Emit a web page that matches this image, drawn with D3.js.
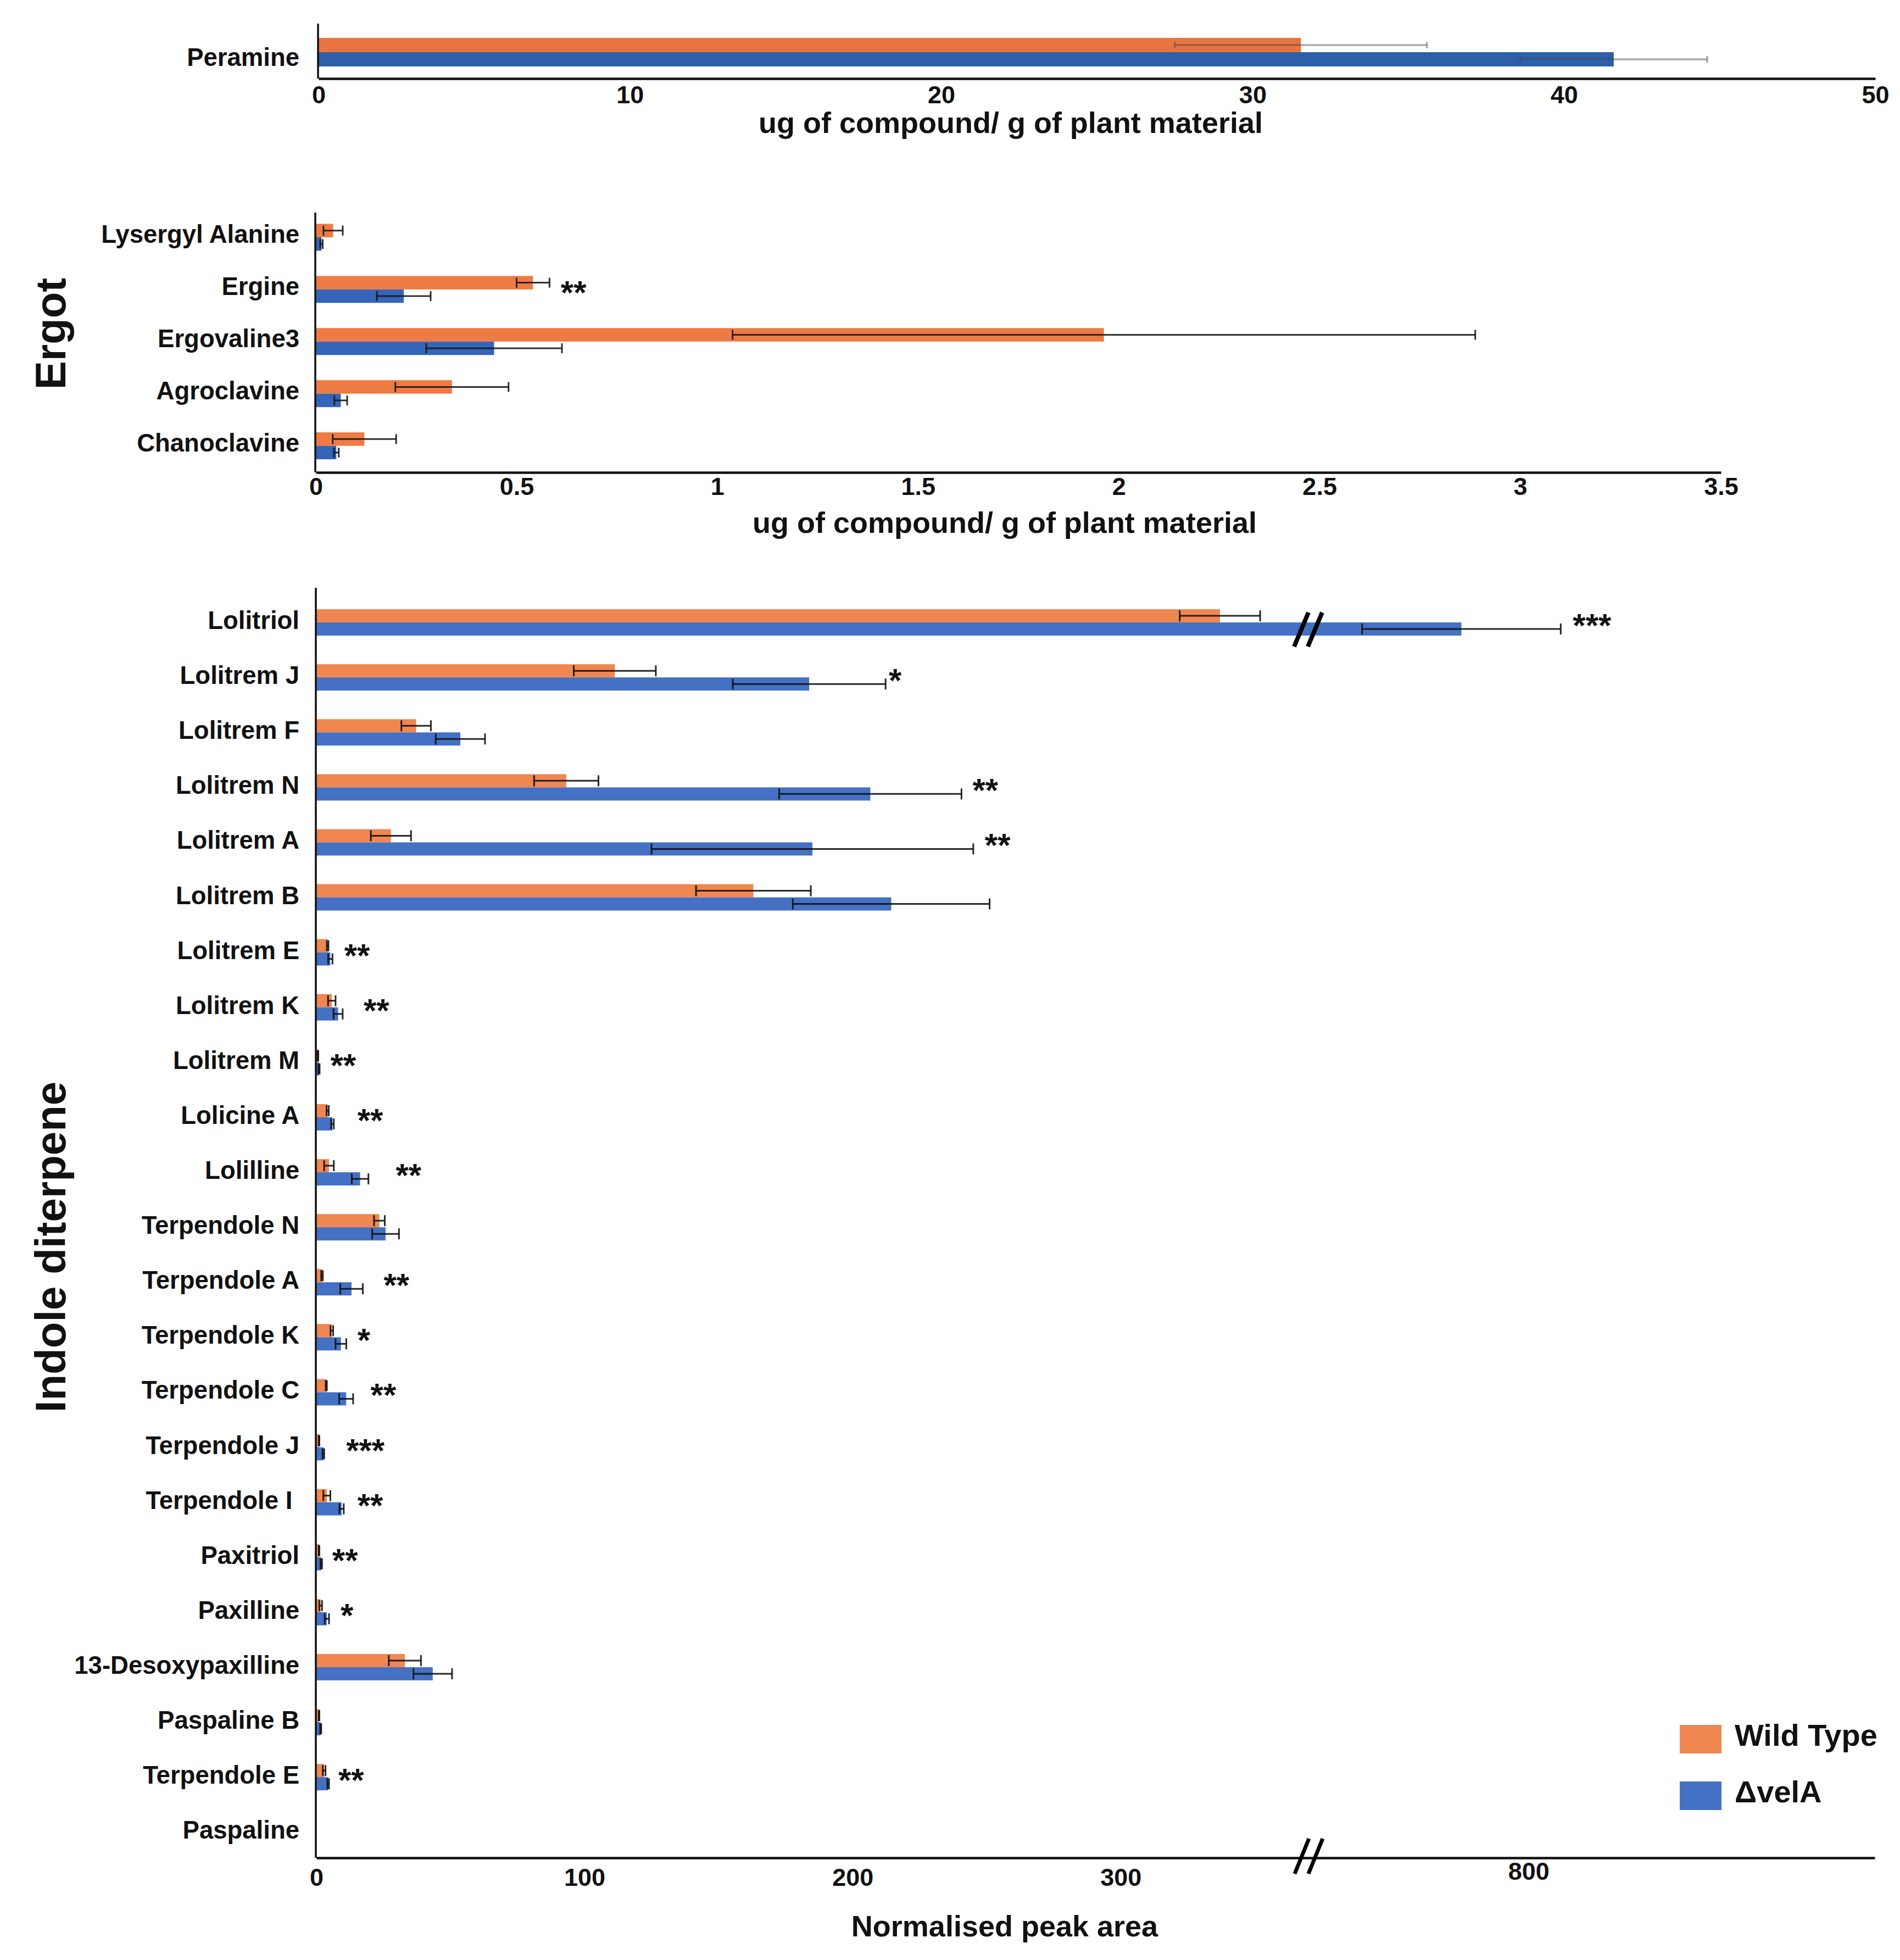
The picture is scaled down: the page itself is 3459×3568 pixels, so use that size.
<!DOCTYPE html>
<html>
<head>
<meta charset="utf-8">
<script src="https://cdn.jsdelivr.net/npm/d3@7"></script>
<style>
html,body{margin:0;padding:0;background:#fff;}
svg text{font-family:Arial,"Liberation Sans",Helvetica,sans-serif;font-weight:bold;fill:#111;}
</style>
</head>
<body>
<svg id="chart" width="3459" height="3568"></svg>
<script>
// ---------------- DATA ----------------
const seriesNames = ["Wild Type", "\u0394velA"];

// Peramine (ug of compound / g of plant material)
const perCats = ["Peramine"];
const perWT = [31.55];
const perWTErr = [4.05];
const perVel = [41.6];
const perVelErr = [3.0];
const perTicks = [0, 10, 20, 30, 40, 50];

// Ergot alkaloids (ug of compound / g of plant material)
const ergCats = ["Lysergyl Alanine", "Ergine", "Ergovaline3", "Agroclavine", "Chanoclavine"];
const ergWT = [0.043, 0.541, 1.963, 0.339, 0.121];
const ergWTErr = [0.024, 0.041, 0.925, 0.141, 0.079];
const ergVel = [0.014, 0.219, 0.444, 0.062, 0.051];
const ergVelErr = [0.003, 0.067, 0.169, 0.016, 0.006];
const ergSig = ["", "**", "", "", ""];
const ergSigAt = [null, 0.61, null, null, null];
const ergTicks = [0, 0.5, 1, 1.5, 2, 2.5, 3, 3.5];

// Indole diterpenes (normalised peak area)
const indCats = ["Lolitriol", "Lolitrem J", "Lolitrem F", "Lolitrem N", "Lolitrem A", "Lolitrem B",
  "Lolitrem E", "Lolitrem K", "Lolitrem M", "Lolicine A", "Lolilline", "Terpendole N",
  "Terpendole A", "Terpendole K", "Terpendole C", "Terpendole J", "Terpendole I ", "Paxitriol",
  "Paxilline", "13-Desoxypaxilline", "Paspaline B", "Terpendole E", "Paspaline"];
const indWT = [337, 111.3, 37.2, 93.2, 27.8, 163, 4.2, 5.75, 0.6, 4.2, 4.7, 23.5,
  2.1, 5.75, 3.7, 1.0, 3.9, 1.0, 1.6, 33, 1.0, 2.9, 0];
const indWTErr = [15, 15.3, 5.5, 12, 7.5, 21.4, 0.3, 1.4, 0.1, 0.4, 1.8, 2,
  0.3, 0.5, 0.2, 0.1, 1.3, 0.1, 0.5, 6, 0.1, 0.5, 0];
const indVel = [775, 183.8, 53.7, 206.6, 185, 214.4, 5.2, 8.1, 1.0, 6.0, 16.3, 25.8,
  13.1, 9.15, 11.1, 2.6, 9.4, 1.8, 3.9, 43.4, 1.6, 4.4, 0];
const indVelErr = [37, 28.5, 9.2, 34, 60, 36.7, 0.8, 1.7, 0.2, 0.5, 3.1, 5,
  4.2, 2, 2.6, 0.3, 0.8, 0.3, 0.8, 7.2, 0.2, 0.3, 0];
const indSig = ["***", "*", "", "**", "**", "", "**", "**", "**", "**", "**", "",
  "**", "*", "**", "***", "**", "**", "*", "", "", "**", ""];
const indSigAt = [816.5, 213.5, null, 244.7, 249.3, null, 10.4, 17.6, 5.2, 15.3, 29.6, null,
  25.1, 15.3, 20.2, 11.1, 15.3, 5.9, 9, null, null, 8.2, null];
const indTicks = [0, 100, 200, 300, 800];
const indBreak = [370, 718];   // axis break (values skipped)
const indMax = 929;

// ---------------- DRAWING ----------------
const svg = d3.select("#chart");
svg.append("rect").attr("width", 3459).attr("height", 3568).attr("fill", "#fff");

function panel(cfg) {
  const g = svg.append("g");
  const x = cfg.x;
  const y = d3.scaleBand().domain(cfg.cats).range(cfg.yRange);
  const h = cfg.barH;
  const rows = cfg.cats.map((c, i) => ({
    c, i,
    vals: [cfg.wt[i], cfg.vel[i]],
    errs: [cfg.wtErr[i], cfg.velErr[i]],
    sig: cfg.sig ? cfg.sig[i] : "",
    sigAt: cfg.sigAt ? cfg.sigAt[i] : null
  }));
  const cy = d => y(d.c) + y.bandwidth() / 2;

  // bars
  [0, 1].forEach(s => {
    g.selectAll("rect.s" + s).data(rows).join("rect")
      .attr("class", "s" + s)
      .attr("x", x(0))
      .attr("y", d => cy(d) - h + s * h)
      .attr("width", d => Math.max(0, x(d.vals[s]) - x(0)))
      .attr("height", h)
      .attr("fill", cfg.colors[s]);
  });

  // error bars
  [0, 1].forEach(s => {
    const eg = g.selectAll("g.e" + s).data(rows.filter(d => d.errs[s] > 0)).join("g")
      .attr("class", "e" + s)
      .attr("stroke", cfg.errColor)
      .attr("stroke-opacity", cfg.errOpacity)
      .attr("stroke-width", cfg.errW);
    const yy = d => cy(d) - h / 2 + s * h;
    const lo = d => x(Math.max(0, d.vals[s] - d.errs[s]));
    const hi = d => x(d.vals[s] + d.errs[s]);
    eg.append("line").attr("x1", lo).attr("x2", hi).attr("y1", yy).attr("y2", yy);
    eg.append("line").attr("x1", lo).attr("x2", lo)
      .attr("y1", d => yy(d) - cfg.capH / 2).attr("y2", d => yy(d) + cfg.capH / 2);
    eg.append("line").attr("x1", hi).attr("x2", hi)
      .attr("y1", d => yy(d) - cfg.capH / 2).attr("y2", d => yy(d) + cfg.capH / 2);
  });

  // significance stars
  g.selectAll("text.sig").data(rows.filter(d => d.sig)).join("text")
    .attr("class", "sig")
    .attr("x", d => x(d.sigAt))
    .attr("y", d => cy(d) + 26)
    .attr("font-size", 60)
    .text(d => d.sig);

  // y axis line
  g.append("line")
    .attr("x1", x(0) - 1).attr("x2", x(0) - 1)
    .attr("y1", cfg.axisTop).attr("y2", cfg.axisY)
    .attr("stroke", "#111").attr("stroke-width", 3.5);

  // category labels
  const ya = g.append("g").attr("transform", `translate(${x(0)},0)`)
    .call(d3.axisLeft(y).tickSize(0).tickPadding(x(0) - 545));
  ya.select(".domain").remove();
  ya.attr("font-family", null).attr("font-size", null);
  ya.selectAll("text")
    .attr("font-size", 45.5)
    .attr("dy", null)
    .attr("y", cfg.labelDy)
    .style("white-space", "pre");

  // x axis
  const xa = g.append("g").attr("transform", `translate(0,${cfg.axisY})`)
    .call(d3.axisBottom(x).tickValues(cfg.ticks).tickFormat(d3.format("~g"))
      .tickSizeInner(0).tickSizeOuter(0).tickPadding(cfg.tickPad));
  xa.attr("font-family", null).attr("font-size", null);
  xa.select(".domain").attr("stroke", "#111").attr("stroke-width", 4.5);
  xa.selectAll("text").attr("font-size", 45);
  if (cfg.raisedTick !== undefined) {
    xa.selectAll(".tick").filter(d => d === cfg.raisedTick).select("text")
      .attr("y", cfg.tickPad - 11);
  }

  // axis title
  if (cfg.title) {
    g.append("text")
      .attr("x", cfg.titleX).attr("y", cfg.titleY)
      .attr("text-anchor", "middle")
      .attr("font-size", 54)
      .text(cfg.title);
  }
  return { g, x, y, cy, rows };
}

// Peramine
panel({
  cats: perCats, wt: perWT, wtErr: perWTErr, vel: perVel, velErr: perVelErr,
  x: d3.scaleLinear().domain([0, 50]).range([580, 3414]),
  yRange: [45, 145], barH: 26,
  colors: ["#EA7441", "#2E5FA9"],
  errColor: "#444", errOpacity: 0.45, errW: 3.5, capH: 12,
  axisTop: 43, axisY: 143, tickPad: 13, labelDy: 25,
  ticks: perTicks,
  title: "ug of compound/ g of plant material", titleX: 1840, titleY: 242
});

// Ergot
panel({
  cats: ergCats, wt: ergWT, wtErr: ergWTErr, vel: ergVel, velErr: ergVelErr,
  sig: ergSig, sigAt: ergSigAt,
  x: d3.scaleLinear().domain([0, 3.5]).range([575, 3133]),
  yRange: [384.5, 859], barH: 24.5,
  colors: ["#EE7B43", "#3465B8"],
  errColor: "#1a1a1a", errOpacity: 0.9, errW: 3, capH: 18,
  axisTop: 387, axisY: 860, tickPad: 9, labelDy: 10,
  ticks: ergTicks,
  title: "ug of compound/ g of plant material", titleX: 1829, titleY: 970
});

// Indole diterpenes (broken axis)
const indX = d3.scaleLinear()
  .domain([0, indBreak[0], indBreak[1], indMax])
  .range([576, 2382, 2382, 3413]);
const ind = panel({
  cats: indCats, wt: indWT, wtErr: indWTErr, vel: indVel, velErr: indVelErr,
  sig: indSig, sigAt: indSigAt,
  x: indX,
  yRange: [1083, 3385.3], barH: 24,
  colors: ["#F08751", "#4471C3"],
  errColor: "#111", errOpacity: 0.9, errW: 3, capH: 20,
  axisTop: 1070, axisY: 3382, tickPad: 19, labelDy: 12,
  ticks: indTicks, raisedTick: 800,
  title: "Normalised peak area", titleX: 1829, titleY: 3525
});

// break marks
function breakMarks(cx0, cy0, dxh, dyh, w) {
  [0, 1].forEach(k => {
    const cx = cx0 + k * 25;
    svg.append("line")
      .attr("x1", cx - dxh).attr("y1", cy0 + dyh)
      .attr("x2", cx + dxh).attr("y2", cy0 - dyh)
      .attr("stroke", "#000").attr("stroke-width", w);
  });
}
const bx = indX(indBreak[0]);
const lolitriolRow = ind.rows[0];
breakMarks(bx - 13, ind.cy(lolitriolRow) + 13, 13, 31, 8);
breakMarks(bx - 12, 3379, 13, 32, 7);

// group labels
[["Ergot", 607.5], ["Indole diterpene", 2270]].forEach(([t, cyy]) => {
  svg.append("text")
    .attr("transform", `translate(119,${cyy}) rotate(-90)`)
    .attr("text-anchor", "middle")
    .attr("font-size", 78)
    .text(t);
});

// legend
const legColors = ["#F08751", "#4471C3"];
const leg = svg.append("g").attr("transform", "translate(3058,3140)");
seriesNames.forEach((n, i) => {
  leg.append("rect").attr("x", 0).attr("y", i * 103).attr("width", 76).attr("height", 52)
    .attr("fill", legColors[i]);
  leg.append("text").attr("x", 100).attr("y", i * 103 + 38)
    .attr("font-size", 56).text(n);
});
</script>
</body>
</html>
